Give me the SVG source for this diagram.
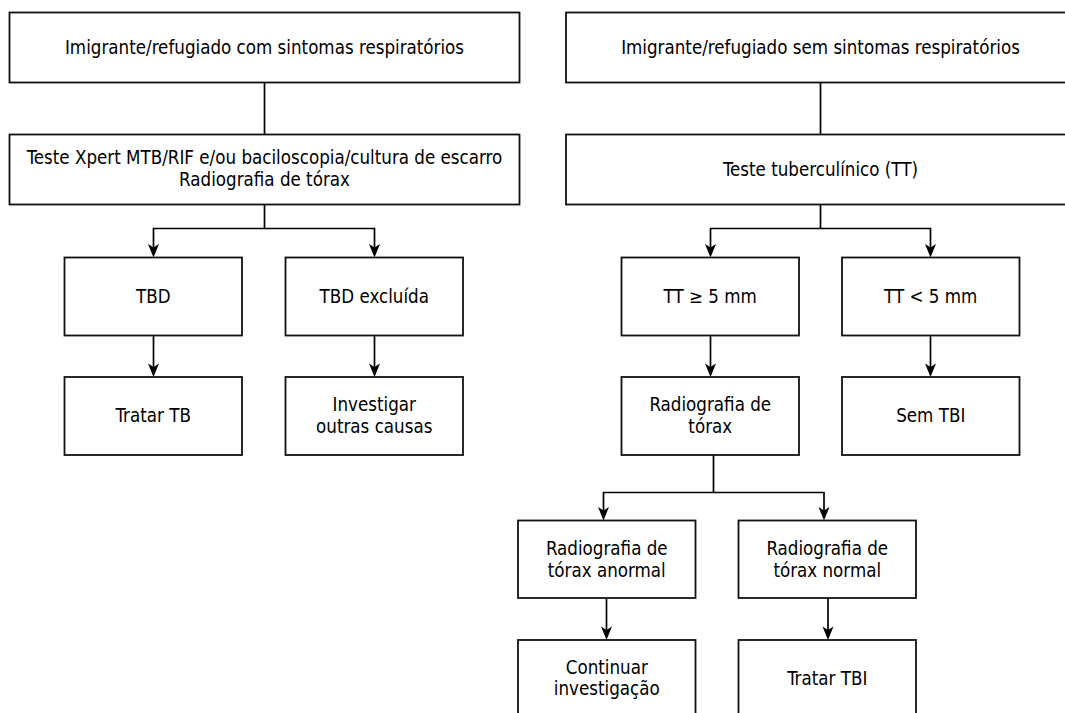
<svg xmlns="http://www.w3.org/2000/svg" width="1065" height="713" viewBox="0 0 1065 713">
<style>
.box{fill:#ffffff;stroke:#111111;stroke-width:1.8}
.t{font-family:"DejaVu Sans Condensed","DejaVu Sans",sans-serif;font-stretch:condensed;font-size:18.6px;fill:#000000;text-anchor:middle}
.c{fill:none;stroke:#000000;stroke-width:1.7}
</style>
<rect width="1065" height="713" fill="#ffffff"/>
<g id="connectors">
<path class="c" d="M264.5,82.5 V134.5"/>
<path class="c" d="M264.5,204.5 V228.5 H153.5 V250"/>
<path class="c" d="M264.5,228.5 H374.5 V250"/>
<path class="c" d="M153.5,335.5 V370"/>
<path class="c" d="M374.5,335.5 V370"/>
<path class="c" d="M820.5,82.5 V134.5"/>
<path class="c" d="M820.5,204.5 V228.5 H710.5 V250"/>
<path class="c" d="M820.5,228.5 H930.5 V250"/>
<path class="c" d="M710.5,335.5 V370"/>
<path class="c" d="M930.5,335.5 V370"/>
<path class="c" d="M713.5,455 V492.5 H603.5 V513"/>
<path class="c" d="M713.5,492.5 H824 V513"/>
<path class="c" d="M606.5,598 V633"/>
<path class="c" d="M828,598 V633"/>
<g id="arrowheads" fill="#000000">
<path d="M148,244 L153.5,247.5 L159,244 L153.5,257.5 Z"/>
<path d="M369,244 L374.5,247.5 L380,244 L374.5,257.5 Z"/>
<path d="M148,363.5 L153.5,367 L159,363.5 L153.5,377 Z"/>
<path d="M369,363.5 L374.5,367 L380,363.5 L374.5,377 Z"/>
<path d="M705,244 L710.5,247.5 L716,244 L710.5,257.5 Z"/>
<path d="M925,244 L930.5,247.5 L936,244 L930.5,257.5 Z"/>
<path d="M705,363.5 L710.5,367 L716,363.5 L710.5,377 Z"/>
<path d="M925,363.5 L930.5,367 L936,363.5 L930.5,377 Z"/>
<path d="M598,507 L603.5,510.5 L609,507 L603.5,520.5 Z"/>
<path d="M818.5,507 L824,510.5 L829.5,507 L824,520.5 Z"/>
<path d="M601,626.5 L606.5,630 L612,626.5 L606.5,640 Z"/>
<path d="M822.5,626.5 L828,630 L833.5,626.5 L828,640 Z"/>
</g>
</g>
<g id="n1"><rect class="box" x="9.5" y="12.5" width="510" height="70"/><text class="t" x="264.5" y="54">Imigrante/refugiado com sintomas respiratórios</text></g>
<g id="n2"><rect class="box" x="9.5" y="134.5" width="510" height="70"/><text class="t" x="264.5" y="164">Teste Xpert MTB/RIF e/ou baciloscopia/cultura de escarro</text><text class="t" x="264.5" y="186">Radiografia de tórax</text></g>
<g id="n3"><rect class="box" x="64.5" y="257.5" width="177.5" height="78"/><text class="t" x="153.25" y="302.5">TBD</text></g>
<g id="n4"><rect class="box" x="285.5" y="257.5" width="177.5" height="78"/><text class="t" x="374.25" y="302.5">TBD excluída</text></g>
<g id="n5"><rect class="box" x="64.5" y="377" width="177.5" height="78"/><text class="t" x="153.25" y="422">Tratar TB</text></g>
<g id="n6"><rect class="box" x="285.5" y="377" width="177.5" height="78"/><text class="t" x="374.25" y="410.5">Investigar</text><text class="t" x="374.25" y="433">outras causas</text></g>
<g id="n7"><rect class="box" x="566" y="12.5" width="510" height="70"/><text class="t" x="820.5" y="54">Imigrante/refugiado sem sintomas respiratórios</text></g>
<g id="n8"><rect class="box" x="566" y="134.5" width="510" height="70"/><text class="t" x="820.5" y="176">Teste tuberculínico (TT)</text></g>
<g id="n9"><rect class="box" x="621.5" y="257.5" width="177.5" height="78"/><text class="t" x="710.25" y="302.5">TT ≥ 5 mm</text></g>
<g id="n10"><rect class="box" x="842" y="257.5" width="177.5" height="78"/><text class="t" x="930.75" y="302.5">TT &lt; 5 mm</text></g>
<g id="n11"><rect class="box" x="621.5" y="377" width="177.5" height="78"/><text class="t" x="710.25" y="411">Radiografia de</text><text class="t" x="710.25" y="433">tórax</text></g>
<g id="n12"><rect class="box" x="842" y="377" width="177.5" height="78"/><text class="t" x="930.75" y="422">Sem TBI</text></g>
<g id="n13"><rect class="box" x="518" y="520.5" width="177.5" height="77.5"/><text class="t" x="606.75" y="554.5">Radiografia de</text><text class="t" x="606.75" y="576.5">tórax anormal</text></g>
<g id="n14"><rect class="box" x="738.5" y="520.5" width="177.5" height="77.5"/><text class="t" x="827.25" y="554.5">Radiografia de</text><text class="t" x="827.25" y="576.5">tórax normal</text></g>
<g id="n15"><rect class="box" x="518" y="640" width="177.5" height="78"/><text class="t" x="606.75" y="673.5">Continuar</text><text class="t" x="606.75" y="695">investigação</text></g>
<g id="n16"><rect class="box" x="738.5" y="640" width="177.5" height="78"/><text class="t" x="827.25" y="685">Tratar TBI</text></g>
</svg>
